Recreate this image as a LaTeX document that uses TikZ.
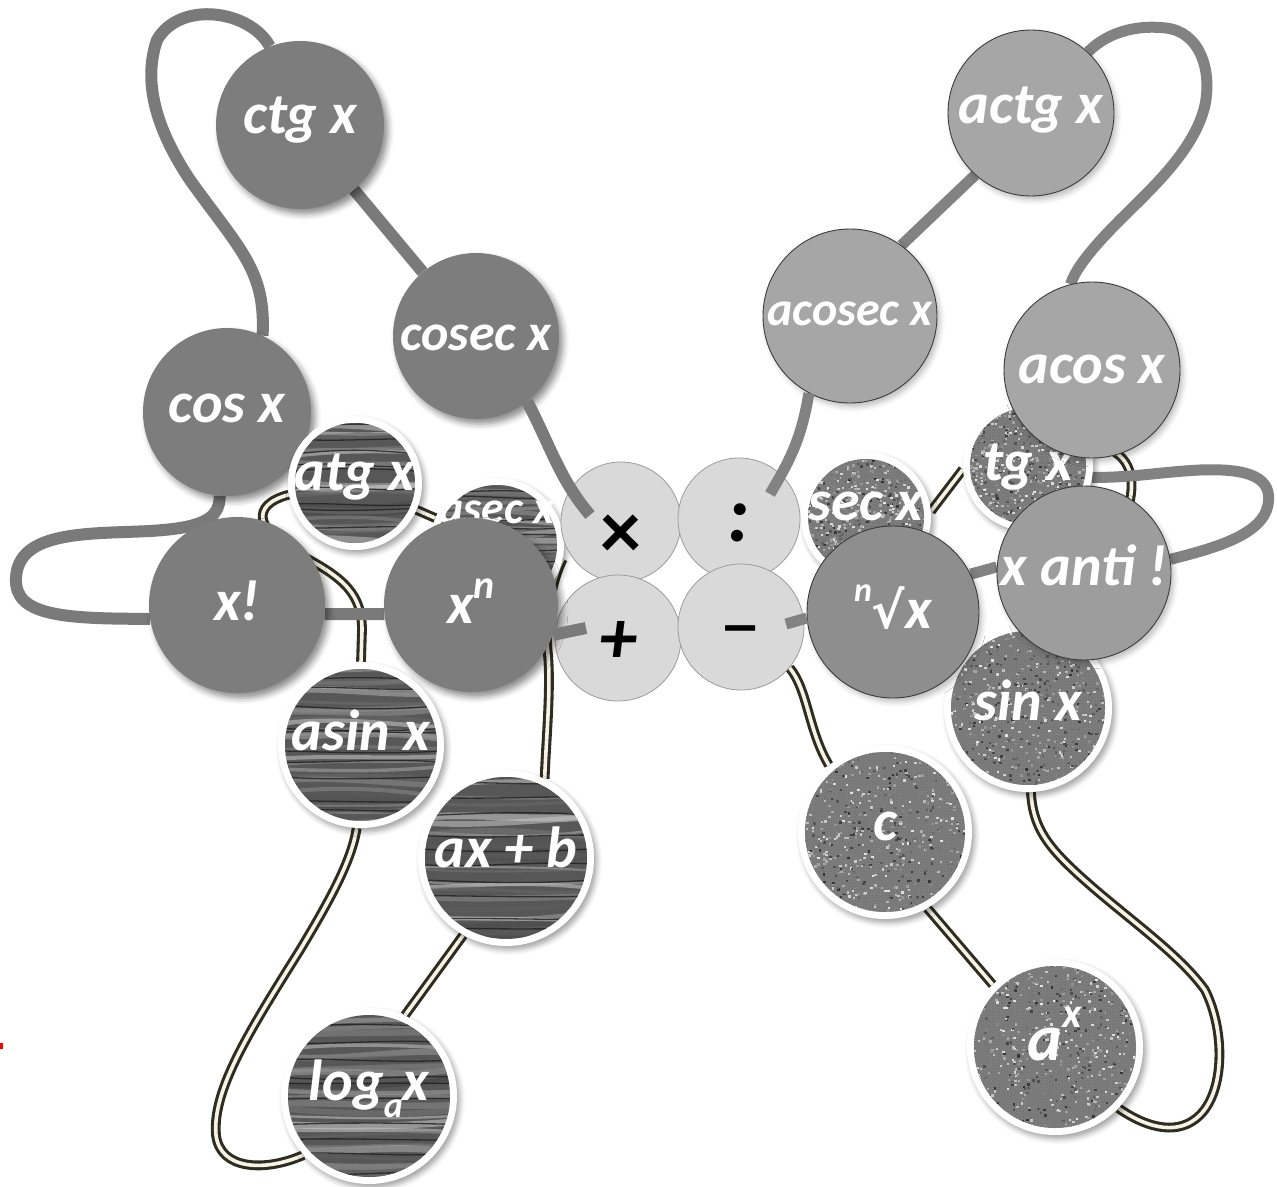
\documentclass[tikz,border=0pt]{standalone}
\usepackage{fontspec}
\setmainfont{Carlito}
\newfontfamily\dvs{DejaVu Sans}
\usetikzlibrary{shadows.blur,patterns,calc}
\pgfdeclarelayer{bglayer}
\pgfdeclarelayer{conn}
\pgfsetlayers{bglayer,conn,main}
\definecolor{darkball}{HTML}{7D7D7D}
\definecolor{lightball}{HTML}{D9D9D9}
\definecolor{lightedge}{HTML}{9C9C9C}
\definecolor{midball}{HTML}{A6A6A6}
\definecolor{rootball}{HTML}{8E8E8E}
\definecolor{antiball}{HTML}{9D9D9D}
\definecolor{balledge}{HTML}{3C3C3C}
\definecolor{cordL}{HTML}{7A7A7A}
\definecolor{cordR}{HTML}{828282}
\definecolor{dblout}{HTML}{2E2D20}
\definecolor{dblin}{HTML}{F6F3E6}
\definecolor{woodbase}{HTML}{575757}
\definecolor{fabricbase}{HTML}{858585}
\newcommand{\ctr}[2]{\makebox[0pt]{\smash{\raisebox{#1}{#2}}}}
\tikzset{
 lbl/.style={text=white, font=\fontsize{58}{60}\selectfont\bfseries\itshape},
 darkb/.style={circle, inner sep=0pt, fill=darkball, lbl, blur shadow={shadow xshift=4pt, shadow yshift=-5pt, shadow blur radius=6pt, shadow opacity=45}},
 lightb/.style={circle, inner sep=0pt, fill=lightball, draw=lightedge, line width=0.8pt, text=black, font=\fontsize{60}{60}\selectfont\bfseries},
 midb/.style={circle, inner sep=0pt, fill=midball, draw=balledge, line width=0.9pt, lbl, blur shadow={shadow xshift=3pt, shadow yshift=-4pt, shadow blur radius=5pt, shadow opacity=25}},
 ringshadow/.style={blur shadow={shadow xshift=3pt, shadow yshift=-4pt, shadow blur radius=5pt, shadow opacity=35}},
 cordl/.style={draw=cordL, line width=12pt},
 cordr/.style={draw=cordR, line width=11pt},
 dbl/.style={draw=dblout, double=dblin, double distance=3.6pt, line width=3.1pt},
}
% #1 name, #2 x, #3 y, #4 r, #5 label, #6 baseline offset
\newcommand{\woodball}[6]{%
 \fill[white, ringshadow] (#2,#3) circle (#4);
 \begin{scope}
  \clip (#2,#3) circle ({#4-7});
  \fill[woodbase] (#2-#4,#3-#4) rectangle (#2+#4,#3+#4);
  \foreach \k in {0,...,26}{
    \pgfmathsetmacro\ya{#3-#4+\k*#4/13+3*rand}
    \pgfmathsetmacro\yb{\ya+8*rand}
    \pgfmathsetmacro\yc{\ya+8*rand}
    \pgfmathsetmacro\yd{\ya+5*rand}
    \pgfmathtruncatemacro\sh{random(20,75)}
    \pgfmathsetmacro\lw{2+5*rnd}
    \draw[black!\sh, line width=\lw pt, opacity=.55] (#2-#4,\ya) .. controls (#2-#4/3,\yb) and (#2+#4/3,\yc) .. (#2+#4,\yd);
  }
  \foreach \k in {0,...,11}{
    \pgfmathsetmacro\ya{#3-#4+\k*#4/5.5+6*rand}
    \pgfmathsetmacro\yb{\ya+6*rand}
    \pgfmathsetmacro\yc{\ya+6*rand}
    \draw[black!88, line width=1.3pt, opacity=.8] (#2-#4,\ya) .. controls (#2-#4/3,\yb) and (#2+#4/3,\yc) .. (#2+#4,\ya);
  }
 \end{scope}
 \node[circle, inner sep=0pt, minimum size={2*#4pt}] (#1) at (#2,#3) {};
 \node[lbl] at (#1.center) {\ctr{#6pt}{#5}};
}
\newcommand{\fabricball}[6]{%
 \fill[white, ringshadow] (#2,#3) circle (#4);
 \begin{scope}
  \clip (#2,#3) circle ({#4-7});
  \fill[fabricbase] (#2-#4,#3-#4) rectangle (#2+#4,#3+#4);
  \fill[pattern=crosshatch, pattern color=black!55] (#2-#4,#3-#4) rectangle (#2+#4,#3+#4);
  \foreach \k in {1,...,750}{
    \pgfmathsetmacro\px{#2-#4+2*#4*rnd}
    \pgfmathsetmacro\py{#3-#4+2*#4*rnd}
    \pgfmathtruncatemacro\sh{random(10,80)}
    \fill[black!\sh] (\px,\py) rectangle ++(2.6,2.2);
  }
 \end{scope}
 \node[circle, inner sep=0pt, minimum size={2*#4pt}] (#1) at (#2,#3) {};
 \node[lbl] at (#1.center) {\ctr{#6pt}{#5}};
}
\begin{document}
\begin{tikzpicture}[x=1pt,y=-1pt]
\pgfmathsetseed{7}
\begin{pgfonlayer}{bglayer}
\fill[white] (0,0) rectangle (1277,1186);
\end{pgfonlayer}
\useasboundingbox (0,0) rectangle (1277,1186);
% primer for the shadow machinery, outside the page
\fill[white, ringshadow] (-300,-300) circle (3);
\fill[red] (0,1043) rectangle (2.5,1049);

% dark ball under atg
\node[darkb, minimum size=168pt] (cos) at (227,412) {\ctr{-10pt}{cos x}};

% textured balls
\fabricball{tgx}{1028}{466}{65}{tg x}{-14}
\fabricball{sec}{866}{517}{65}{sec x}{-3}
\woodball{atg}{355}{483}{67}{atg x}{-7}
\woodball{asec}{497}{545}{67}{\fontsize{46}{46}\selectfont asec x}{22}
\woodball{asin}{361}{745}{83}{asin x}{-5}
\woodball{axb}{506}{858}{88}{ax + b}{-9}
\woodball{loga}{369}{1096}{88}{log\raisebox{-0.3em}{\fontsize{36}{36}\selectfont a}x}{-4}
\fabricball{sin}{1028}{708}{84}{sin x}{-12}
\fabricball{c}{885}{832}{87}{c}{-8}
\fabricball{ax}{1055}{1047}{88}{\fontsize{66}{66}\selectfont a\raisebox{0.5em}{\fontsize{42}{42}\selectfont x}}{-13}

% light operator balls
\node[lightb, minimum size=120pt] (mul) at (621,522) {\ctr{-36pt}{\fontsize{82}{82}\selectfont ×}};
\node[lightb, minimum size=122pt] (dvd) at (739,519) {\ctr{-22pt}{\fontsize{80}{80}\selectfont\itshape :}};
\node[lightb, minimum size=126pt] (plus) at (618,638) {\ctr{-25pt}{\fontsize{76}{76}\selectfont\itshape +}};
\node[lightb, minimum size=126pt] (minus) at (741,627) {\ctr{-16pt}{\dvs\fontsize{48}{48}\selectfont −}};

% dark balls
\node[darkb, minimum size=168pt] (ctg) at (300,125) {\ctr{-8pt}{ctg x}};
\node[darkb, minimum size=166pt] (cosec) at (476,336) {\ctr{-14pt}{\fontsize{52}{52}\selectfont cosec x}};
\node[darkb, minimum size=176pt] (xfact) at (237,605) {\ctr{-15pt}{x!}};
\node[darkb, minimum size=174pt] (xn) at (471,605) {\ctr{-18pt}{x\raisebox{0.42em}{\fontsize{40}{40}\selectfont n}}};

% mid grey balls
\node[midb, minimum size=166pt] (actg) at (1031,113) {\ctr{-10pt}{actg x}};
\node[midb, minimum size=174pt] (acosec) at (850,316) {\ctr{-9pt}{\fontsize{48}{48}\selectfont acosec x}};
\node[midb, minimum size=176pt] (acos) at (1092,370) {\ctr{-13pt}{acos x}};
\node[midb, fill=rootball, minimum size=172pt] (root) at (893,612) {\ctr{-16pt}{\raisebox{0.45em}{\fontsize{34}{34}\selectfont n}{\dvs\fontsize{50}{50}\selectfont √}x}};
\node[midb, fill=antiball, minimum size=174pt] (xanti) at (1084,573) {\ctr{-12pt}{x anti !}};

% connectors under the balls
\begin{pgfonlayer}{conn}
\draw[dbl] (atg) -- (asec);
\draw[dbl] (atg.190) .. controls (250,505) and (255,530) .. (300,555) .. controls (345,578) and (362,595) .. (362,630) -- (asin.north);
\draw[dbl] (asin.267) .. controls (352,860) and (330,900) .. (300,950) .. controls (250,1030) and (212,1090) .. (216,1135) .. controls (220,1170) and (265,1172) .. (loga.222);
\draw[dbl] (axb.241) -- (loga.66);
\draw[dbl] (asec.-12) .. controls (552,580) and (544,620) .. (548,655) .. controls (551,690) and (546,740) .. (axb.64);
\draw[dbl] (sec.5) -- (tgx.183);
\draw[dbl] (tgx.20) .. controls (1125,448) and (1136,470) .. (1130,500) .. controls (1120,560) and (1060,600) .. (sin.north);
\draw[dbl] (minus.-40) .. controls (808,690) and (808,730) .. (c.130);
\draw[dbl] (c.-61) -- (ax.135);
\draw[dbl] (sin.272) .. controls (1033,830) and (1050,850) .. (1090,885) .. controls (1130,920) and (1180,955) .. (1205,990) .. controls (1225,1030) and (1225,1090) .. (1200,1115) .. controls (1180,1135) and (1150,1130) .. (ax.-44);
\draw[cordl] (ctg) -- (cosec);
\draw[cordl] (ctg.111) .. controls (250,10) and (180,0) .. (157,40) .. controls (145,75) and (150,120) .. (190,180) .. controls (240,250) and (266,270) .. (cos.65);
\draw[cordl] (cos.265) .. controls (220,520) and (200,528) .. (150,531) .. controls (90,534) and (18,530) .. (16,578) .. controls (14,615) and (60,619) .. (xfact.189);
\draw[cordl] (xfact.-6) -- (xn.186);
\draw[cordr] (actg.228) -- (acosec.54);
\draw[cordr] (actg.47) .. controls (1110,30) and (1140,25) .. (1166,28) .. controls (1200,32) and (1212,70) .. (1205,105) .. controls (1195,150) and (1150,190) .. (1120,220) .. controls (1090,250) and (1075,270) .. (acos.104);
\draw[cordr] (root.26) -- (xanti.176);
\draw[cordr] (xanti.9) .. controls (1215,548) and (1262,535) .. (1268,505) .. controls (1273,478) and (1250,468) .. (1200,470) .. controls (1160,472) and (1130,478) .. (tgx.-10);
\end{pgfonlayer}

% connectors ending inside the operator balls
\coordinate (mulIn) at (590,515);
\coordinate (dvdIn) at (770,494);
\coordinate (plusIn) at (586,628);
\coordinate (minusIn) at (786,624);
\draw[cordl] (cosec.-52) .. controls (550,445) and (560,480) .. (mulIn);
\draw[cordr] (acosec.242) .. controls (801,440) and (790,460) .. (dvdIn);
\draw[cordl] (xn.-20) -- (plusIn);
\draw[cordr] (minusIn) -- (root.184);
\end{tikzpicture}
\end{document}
